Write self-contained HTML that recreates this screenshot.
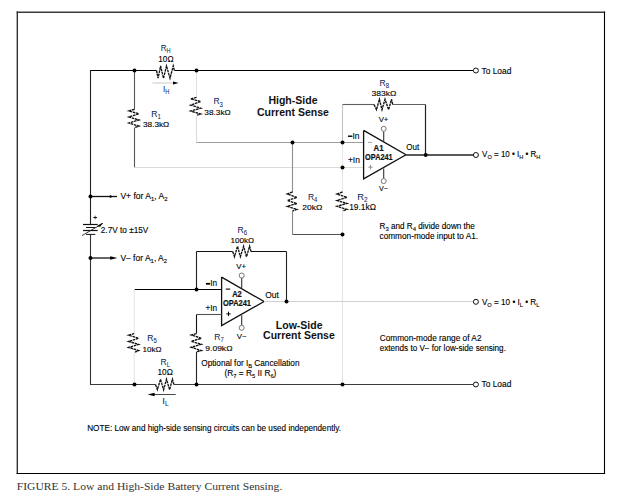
<!DOCTYPE html>
<html><head><meta charset="utf-8"><style>
html,body{margin:0;padding:0;background:#fff;}
svg{display:block;}
text{font-family:"Liberation Sans",sans-serif;}
.serif{font-family:"Liberation Serif",serif;}
</style></head><body>
<svg width="620" height="503" viewBox="0 0 620 503">
<rect width="620" height="503" fill="#fff"/>
<line x1="17.3" y1="11.4" x2="17.3" y2="474.1" stroke="#222" stroke-width="1.3"/>
<line x1="16.6" y1="12.2" x2="605.1" y2="12.2" stroke="#3a3a3a" stroke-width="1.5"/>
<line x1="604.5" y1="11.4" x2="604.5" y2="474.1" stroke="#000" stroke-width="1.1"/>
<line x1="16.6" y1="473.5" x2="605.1" y2="473.5" stroke="#000" stroke-width="1.1"/>
<line x1="90.5" y1="70.5" x2="156.5" y2="70.5" stroke="#000" stroke-width="1.1"/>
<polyline points="156.50,70.50 158.10,78.20 160.60,66.00 163.50,78.20 166.50,66.00 170.00,78.20 173.20,66.00 174.40,70.50" stroke="#111" stroke-width="1.35" fill="none" stroke-linejoin="miter" stroke-dasharray="2.6 0.7"/>
<line x1="174.4" y1="70.5" x2="473.3" y2="70.5" stroke="#000" stroke-width="1.1"/>
<circle cx="475.9" cy="70.5" r="2.5" fill="#fff" stroke="#111" stroke-width="1.0"/>
<line x1="90.5" y1="70.0" x2="90.5" y2="224.5" stroke="#222" stroke-width="1.1"/>
<line x1="90.5" y1="234.3" x2="90.5" y2="385.0" stroke="#333" stroke-width="1.1"/>
<line x1="90" y1="384.5" x2="155.5" y2="384.5" stroke="#3a3a3a" stroke-width="1.1"/>
<polyline points="155.50,384.50 157.40,389.70 160.50,379.30 163.60,389.70 166.50,379.30 169.60,389.70 172.40,379.30 173.90,384.50" stroke="#111" stroke-width="1.35" fill="none" stroke-linejoin="miter" stroke-dasharray="2.6 0.7"/>
<line x1="173.9" y1="384.5" x2="473.3" y2="384.5" stroke="#3c3c3c" stroke-width="1.1"/>
<circle cx="475.9" cy="384.5" r="2.5" fill="#fff" stroke="#111" stroke-width="1.0"/>
<line x1="134.5" y1="70.5" x2="134.5" y2="109.5" stroke="#555" stroke-width="1.1"/>
<polyline points="134.50,109.30 128.90,110.90 138.90,113.80 128.90,116.90 138.90,120.00 128.90,123.00 138.90,126.10 134.50,127.60" stroke="#111" stroke-width="1.35" fill="none" stroke-linejoin="miter" stroke-dasharray="2.6 0.7"/>
<line x1="134.5" y1="127.6" x2="134.5" y2="167.5" stroke="#555" stroke-width="1.1"/>
<line x1="134.5" y1="167.5" x2="363.5" y2="167.5" stroke="#dadada" stroke-width="1.1"/>
<line x1="196.5" y1="70.5" x2="196.5" y2="97.4" stroke="#e2e2e2" stroke-width="1.1"/>
<polyline points="196.50,97.40 190.70,98.90 200.70,101.50 190.70,105.10 200.70,108.20 190.70,111.00 200.70,114.10 196.50,115.40" stroke="#111" stroke-width="1.35" fill="none" stroke-linejoin="miter" stroke-dasharray="2.6 0.7"/>
<line x1="196.5" y1="115.4" x2="196.5" y2="142.5" stroke="#dcdcdc" stroke-width="1.1"/>
<line x1="196.5" y1="142.5" x2="363.5" y2="142.5" stroke="#9e9e9e" stroke-width="1.1"/>
<line x1="292.5" y1="142.5" x2="292.5" y2="192" stroke="#909090" stroke-width="1.1"/>
<polyline points="292.50,192.00 287.30,194.00 297.00,197.40 287.30,200.50 297.00,203.50 287.30,206.30 297.00,209.40 292.50,211.00" stroke="#111" stroke-width="1.35" fill="none" stroke-linejoin="miter" stroke-dasharray="2.6 0.7"/>
<line x1="292.5" y1="211" x2="292.5" y2="234.5" stroke="#888" stroke-width="1.1"/>
<line x1="292.5" y1="234.5" x2="342.5" y2="234.5" stroke="#505050" stroke-width="1.1"/>
<line x1="342.5" y1="104.5" x2="342.5" y2="142.5" stroke="#c4c4c4" stroke-width="1.1"/>
<line x1="342.5" y1="142.5" x2="342.5" y2="192" stroke="#e8e8e8" stroke-width="1.1"/>
<polyline points="342.50,192.00 337.00,194.00 347.00,197.40 337.00,200.50 347.00,203.50 337.00,206.30 347.00,209.40 342.50,211.00" stroke="#111" stroke-width="1.35" fill="none" stroke-linejoin="miter" stroke-dasharray="2.6 0.7"/>
<line x1="342.5" y1="211" x2="342.5" y2="384.5" stroke="#e6e6e6" stroke-width="1.1"/>
<line x1="342.5" y1="104.5" x2="374" y2="104.5" stroke="#606060" stroke-width="1.1"/>
<polyline points="374.00,104.50 376.50,109.70 379.40,99.30 382.00,109.70 385.00,99.30 388.60,109.70 391.50,99.30 392.70,104.50" stroke="#111" stroke-width="1.35" fill="none" stroke-linejoin="miter" stroke-dasharray="2.6 0.7"/>
<line x1="392.7" y1="104.5" x2="425.5" y2="104.5" stroke="#606060" stroke-width="1.1"/>
<line x1="425.5" y1="104.5" x2="425.5" y2="155" stroke="#222" stroke-width="1.2"/>
<polyline points="363.60,130.40 363.60,178.90 406.00,154.80 363.60,130.40" stroke="#111" stroke-width="1.3" fill="none" stroke-linejoin="miter"/>
<line x1="406" y1="155" x2="473.4" y2="155" stroke="#5a5a5a" stroke-width="2.0"/>
<circle cx="475.9" cy="155" r="2.5" fill="#fff" stroke="#111" stroke-width="1.0"/>
<line x1="383.7" y1="131.4" x2="383.7" y2="141.5" stroke="#333" stroke-width="1.1"/>
<circle cx="383.7" cy="128.8" r="2.5" fill="#fff" stroke="#555" stroke-width="0.8"/>
<line x1="383.7" y1="168.5" x2="383.7" y2="178.5" stroke="#333" stroke-width="1.1"/>
<circle cx="383.7" cy="181.1" r="2.5" fill="#fff" stroke="#555" stroke-width="0.8"/>
<line x1="368" y1="142.4" x2="372" y2="142.4" stroke="#999" stroke-width="0.9"/>
<line x1="368.3" y1="167.2" x2="372.7" y2="167.2" stroke="#888" stroke-width="0.9"/>
<line x1="370.5" y1="165.0" x2="370.5" y2="169.4" stroke="#888" stroke-width="0.9"/>
<line x1="152.5" y1="83" x2="174" y2="83" stroke="#d0d0d0" stroke-width="1.1"/>
<polygon points="173,81.6 178.6,83 173,84.4" fill="#000"/>
<line x1="83" y1="224.5" x2="97.7" y2="224.5" stroke="#111" stroke-width="1.2"/>
<line x1="86" y1="227.5" x2="95.3" y2="227.5" stroke="#111" stroke-width="1.0"/>
<line x1="83" y1="230.5" x2="97.7" y2="230.5" stroke="#111" stroke-width="1.2"/>
<line x1="86" y1="234.4" x2="95.3" y2="234.4" stroke="#111" stroke-width="1.0"/>
<line x1="82" y1="235.6" x2="103" y2="223.3" stroke="#222" stroke-width="0.9"/>
<polygon points="97.6,226.0 101.8,223.4 100.2,226.4" fill="#000" stroke="#000" stroke-width="0.6"/>
<line x1="93.4" y1="217.5" x2="96.9" y2="217.5" stroke="#000" stroke-width="1.1"/>
<line x1="95.2" y1="215.7" x2="95.2" y2="219.3" stroke="#333" stroke-width="0.8"/>
<line x1="90.5" y1="196.5" x2="117" y2="196.5" stroke="#111" stroke-width="1.3"/>
<polygon points="109.8,195.0 113.2,196.5 109.8,198.0" fill="#000"/>
<line x1="90.5" y1="258" x2="111" y2="258" stroke="#111" stroke-width="1.3"/>
<polygon points="110.2,256.2 117.3,258 110.2,259.8" fill="#000"/>
<polyline points="221.60,277.10 221.60,325.60 264.00,301.50 221.60,277.10" stroke="#111" stroke-width="1.3" fill="none" stroke-linejoin="miter"/>
<line x1="241.7" y1="278.1" x2="241.7" y2="288.2" stroke="#333" stroke-width="1.1"/>
<circle cx="241.7" cy="275.5" r="2.5" fill="#fff" stroke="#555" stroke-width="0.8"/>
<line x1="241.7" y1="315.2" x2="241.7" y2="325.2" stroke="#333" stroke-width="1.1"/>
<circle cx="241.7" cy="327.79999999999995" r="2.5" fill="#fff" stroke="#555" stroke-width="0.8"/>
<line x1="225.8" y1="289.1" x2="230.2" y2="289.1" stroke="#000" stroke-width="1.1"/>
<line x1="226.3" y1="313.9" x2="230.7" y2="313.9" stroke="#000" stroke-width="1.0"/>
<line x1="228.5" y1="311.7" x2="228.5" y2="316.1" stroke="#000" stroke-width="1.0"/>
<line x1="134.5" y1="289.5" x2="221.6" y2="289.5" stroke="#000" stroke-width="1.1"/>
<line x1="196.5" y1="251.5" x2="196.5" y2="289.5" stroke="#222" stroke-width="1.1"/>
<line x1="196.5" y1="251.5" x2="232.7" y2="251.5" stroke="#111" stroke-width="1.1"/>
<polyline points="232.70,251.50 234.50,256.70 237.50,246.30 240.40,256.70 243.60,246.30 246.50,256.70 249.60,246.30 251.00,251.50" stroke="#111" stroke-width="1.35" fill="none" stroke-linejoin="miter" stroke-dasharray="2.6 0.7"/>
<line x1="251.0" y1="251.5" x2="286.5" y2="251.5" stroke="#111" stroke-width="1.1"/>
<line x1="286.5" y1="251.5" x2="286.5" y2="301.5" stroke="#222" stroke-width="1.1"/>
<line x1="264" y1="301.5" x2="473.4" y2="301.5" stroke="#d0d0d0" stroke-width="1.0"/>
<circle cx="475.9" cy="301.8" r="2.5" fill="#fff" stroke="#111" stroke-width="1.0"/>
<line x1="196.5" y1="314.5" x2="221.6" y2="314.5" stroke="#555" stroke-width="1.1"/>
<line x1="196.5" y1="314.5" x2="196.5" y2="333.4" stroke="#111" stroke-width="1.1"/>
<polyline points="196.40,333.60 191.30,335.00 201.30,338.30 191.30,341.40 201.30,344.30 191.30,347.20 201.30,350.60 196.40,351.70" stroke="#111" stroke-width="1.35" fill="none" stroke-linejoin="miter" stroke-dasharray="2.6 0.7"/>
<line x1="196.5" y1="351.7" x2="196.5" y2="384.5" stroke="#222" stroke-width="1.1"/>
<line x1="134.3" y1="289.5" x2="134.3" y2="333.4" stroke="#e6e6e6" stroke-width="1.1"/>
<polyline points="134.20,333.60 128.60,335.20 138.60,338.30 128.60,341.40 138.60,344.40 128.60,347.40 138.60,350.60 134.20,352.50" stroke="#111" stroke-width="1.35" fill="none" stroke-linejoin="miter" stroke-dasharray="2.6 0.7"/>
<line x1="134.3" y1="351.7" x2="134.3" y2="384.5" stroke="#e6e6e6" stroke-width="1.1"/>
<rect x="206.0" y="282.9" width="4.0" height="1.8" fill="#000"/>
<rect x="348.0" y="135.5" width="4.2" height="1.2" fill="#000"/>
<line x1="153" y1="394.5" x2="175.7" y2="394.5" stroke="#333" stroke-width="0.9"/>
<polygon points="154.6,392.7 147.6,394.5 154.6,396.3" fill="#000"/>
<text x="160.70" y="50.7" font-size="9.2" font-weight="normal" fill="#0a1f55" stroke="#0a1f55" stroke-width="0.05" textLength="9.80" lengthAdjust="spacingAndGlyphs">R<tspan font-size="6.4" dy="2.4">H</tspan></text>
<text x="158.30" y="61.7" font-size="8.2" font-weight="normal" fill="#000" stroke="#000" stroke-width="0.12" textLength="15.30" lengthAdjust="spacingAndGlyphs">10Ω</text>
<text x="162.90" y="91.5" font-size="9.2" font-weight="normal" fill="#0a1f55" stroke="#0a1f55" stroke-width="0.05" textLength="6.40" lengthAdjust="spacingAndGlyphs">I<tspan font-size="6.4" dy="2.4">H</tspan></text>
<text x="151.30" y="116.9" font-size="9.2" font-weight="normal" fill="#0a1f55" stroke="#0a1f55" stroke-width="0.05" textLength="9.50" lengthAdjust="spacingAndGlyphs">R<tspan font-size="6.4" dy="2.4">1</tspan></text>
<text x="142.90" y="127.0" font-size="8.0" font-weight="normal" fill="#000" stroke="#000" stroke-width="0.12" textLength="26.40" lengthAdjust="spacingAndGlyphs">38.3kΩ</text>
<text x="213.40" y="104.3" font-size="9.2" font-weight="normal" fill="#0a1f55" stroke="#0a1f55" stroke-width="0.05" textLength="9.40" lengthAdjust="spacingAndGlyphs">R<tspan font-size="6.4" dy="2.4">3</tspan></text>
<text x="204.30" y="114.6" font-size="8.0" font-weight="normal" fill="#000" stroke="#000" stroke-width="0.12" textLength="26.40" lengthAdjust="spacingAndGlyphs">38.3kΩ</text>
<text x="268.40" y="103.6" font-size="10.8" font-weight="bold" fill="#111" textLength="49.10" lengthAdjust="spacingAndGlyphs">High-Side</text>
<text x="257.00" y="115.6" font-size="10.8" font-weight="bold" fill="#111" textLength="71.90" lengthAdjust="spacingAndGlyphs">Current Sense</text>
<text x="379.50" y="85.8" font-size="9.2" font-weight="normal" fill="#0a1f55" stroke="#0a1f55" stroke-width="0.05" textLength="9.50" lengthAdjust="spacingAndGlyphs">R<tspan font-size="6.4" dy="2.4">8</tspan></text>
<text x="371.60" y="95.6" font-size="7.6" font-weight="normal" fill="#000" stroke="#000" stroke-width="0.12" textLength="24.90" lengthAdjust="spacingAndGlyphs">383kΩ</text>
<text x="378.70" y="121.5" font-size="7.6" font-weight="normal" fill="#000" stroke="#000" stroke-width="0.12" textLength="9.70" lengthAdjust="spacingAndGlyphs">V+</text>
<text x="347.50" y="138.7" font-size="8.6" font-weight="normal" fill="#000" stroke="#000" stroke-width="0.12" textLength="12.00" lengthAdjust="spacingAndGlyphs">−In</text>
<text x="347.90" y="163.0" font-size="8.6" font-weight="normal" fill="#000" stroke="#000" stroke-width="0.12" textLength="12.00" lengthAdjust="spacingAndGlyphs">+In</text>
<text x="373.60" y="150.7" font-size="8.4" font-weight="bold" fill="#111" stroke="#111" stroke-width="0.2" textLength="10.00" lengthAdjust="spacingAndGlyphs">A1</text>
<text x="365.10" y="159.7" font-size="8.4" font-weight="bold" fill="#111" stroke="#111" stroke-width="0.2" textLength="27.60" lengthAdjust="spacingAndGlyphs">OPA241</text>
<text x="406.30" y="149.8" font-size="8.6" font-weight="normal" fill="#000" stroke="#000" stroke-width="0.12" textLength="12.90" lengthAdjust="spacingAndGlyphs">Out</text>
<text x="379.00" y="191.3" font-size="7.6" font-weight="normal" fill="#000" stroke="#000" stroke-width="0.12" textLength="9.00" lengthAdjust="spacingAndGlyphs">V−</text>
<text x="481.50" y="73.8" font-size="8.6" font-weight="normal" fill="#000" stroke="#000" stroke-width="0.12" textLength="29.80" lengthAdjust="spacingAndGlyphs">To Load</text>
<text x="482.10" y="157.4" font-size="8.6" font-weight="normal" fill="#000" stroke="#000" stroke-width="0.12" textLength="58.30" lengthAdjust="spacingAndGlyphs">V<tspan font-size="6.0" dy="2.0">O</tspan><tspan dy="-2.0"> = 10 • I</tspan><tspan font-size="6.0" dy="2.0">H</tspan><tspan dy="-2.0"> • R</tspan><tspan font-size="6.0" dy="2.0">H</tspan></text>
<text x="307.90" y="200.0" font-size="9.2" font-weight="normal" fill="#0a1f55" stroke="#0a1f55" stroke-width="0.05" textLength="9.40" lengthAdjust="spacingAndGlyphs">R<tspan font-size="6.4" dy="2.4">4</tspan></text>
<text x="302.30" y="210.3" font-size="7.4" font-weight="normal" fill="#000" stroke="#000" stroke-width="0.12" textLength="20.10" lengthAdjust="spacingAndGlyphs">20kΩ</text>
<text x="357.30" y="200.0" font-size="9.2" font-weight="normal" fill="#0a1f55" stroke="#0a1f55" stroke-width="0.05" textLength="10.30" lengthAdjust="spacingAndGlyphs">R<tspan font-size="6.4" dy="2.4">2</tspan></text>
<text x="349.20" y="210.3" font-size="8.2" font-weight="normal" fill="#000" stroke="#000" stroke-width="0.12" textLength="26.80" lengthAdjust="spacingAndGlyphs">19.1kΩ</text>
<text x="379.50" y="229.2" font-size="8.3" font-weight="normal" fill="#000" stroke="#000" stroke-width="0.12" textLength="95.40" lengthAdjust="spacingAndGlyphs">R<tspan font-size="6.0" dy="2.0">3</tspan><tspan dy="-2.0"> and R</tspan><tspan font-size="6.0" dy="2.0">4</tspan><tspan dy="-2.0"> divide down the</tspan></text>
<text x="379.50" y="239.4" font-size="8.3" font-weight="normal" fill="#000" stroke="#000" stroke-width="0.12" textLength="98.60" lengthAdjust="spacingAndGlyphs">common-mode input to A1.</text>
<text x="120.40" y="198.9" font-size="8.6" font-weight="normal" fill="#000" stroke="#000" stroke-width="0.12" textLength="47.10" lengthAdjust="spacingAndGlyphs">V+ for A<tspan font-size="6.0" dy="2.0">1</tspan><tspan dy="-2.0">, A</tspan><tspan font-size="6.0" dy="2.0">2</tspan></text>
<text x="100.80" y="232.7" font-size="8.6" font-weight="normal" fill="#000" stroke="#000" stroke-width="0.12" textLength="47.50" lengthAdjust="spacingAndGlyphs">2.7V to ±15V</text>
<text x="120.40" y="261.1" font-size="8.6" font-weight="normal" fill="#000" stroke="#000" stroke-width="0.12" textLength="46.70" lengthAdjust="spacingAndGlyphs">V– for A<tspan font-size="6.0" dy="2.0">1</tspan><tspan dy="-2.0">, A</tspan><tspan font-size="6.0" dy="2.0">2</tspan></text>
<text x="237.50" y="232.7" font-size="9.2" font-weight="normal" fill="#0a1f55" stroke="#0a1f55" stroke-width="0.05" textLength="9.50" lengthAdjust="spacingAndGlyphs">R<tspan font-size="6.4" dy="2.4">6</tspan></text>
<text x="230.50" y="242.7" font-size="7.3" font-weight="normal" fill="#000" stroke="#000" stroke-width="0.12" textLength="23.70" lengthAdjust="spacingAndGlyphs">100kΩ</text>
<text x="236.30" y="268.5" font-size="7.6" font-weight="normal" fill="#000" stroke="#000" stroke-width="0.12" textLength="9.80" lengthAdjust="spacingAndGlyphs">V+</text>
<text x="205.50" y="286.0" font-size="8.6" font-weight="normal" fill="#000" stroke="#000" stroke-width="0.12" textLength="11.60" lengthAdjust="spacingAndGlyphs">−In</text>
<text x="205.50" y="310.5" font-size="8.6" font-weight="normal" fill="#000" stroke="#000" stroke-width="0.12" textLength="11.60" lengthAdjust="spacingAndGlyphs">+In</text>
<text x="232.20" y="297.4" font-size="8.4" font-weight="bold" fill="#111" stroke="#111" stroke-width="0.2" textLength="9.60" lengthAdjust="spacingAndGlyphs">A2</text>
<text x="223.00" y="306.4" font-size="8.4" font-weight="bold" fill="#111" stroke="#111" stroke-width="0.2" textLength="28.00" lengthAdjust="spacingAndGlyphs">OPA241</text>
<text x="265.30" y="298.0" font-size="8.6" font-weight="normal" fill="#000" stroke="#000" stroke-width="0.12" textLength="13.60" lengthAdjust="spacingAndGlyphs">Out</text>
<text x="236.80" y="338.9" font-size="7.6" font-weight="normal" fill="#000" stroke="#000" stroke-width="0.12" textLength="9.80" lengthAdjust="spacingAndGlyphs">V−</text>
<text x="214.20" y="339.7" font-size="9.2" font-weight="normal" fill="#0a1f55" stroke="#0a1f55" stroke-width="0.05" textLength="9.50" lengthAdjust="spacingAndGlyphs">R<tspan font-size="6.4" dy="2.4">7</tspan></text>
<text x="205.30" y="350.6" font-size="7.9" font-weight="normal" fill="#000" stroke="#000" stroke-width="0.12" textLength="27.20" lengthAdjust="spacingAndGlyphs">9.09kΩ</text>
<text x="275.80" y="328.6" font-size="10.8" font-weight="bold" fill="#111" textLength="46.80" lengthAdjust="spacingAndGlyphs">Low-Side</text>
<text x="263.10" y="339.2" font-size="10.8" font-weight="bold" fill="#111" textLength="71.70" lengthAdjust="spacingAndGlyphs">Current Sense</text>
<text x="481.90" y="304.8" font-size="8.6" font-weight="normal" fill="#000" stroke="#000" stroke-width="0.12" textLength="57.50" lengthAdjust="spacingAndGlyphs">V<tspan font-size="6.0" dy="2.0">O</tspan><tspan dy="-2.0"> = 10 • I</tspan><tspan font-size="6.0" dy="2.0">L</tspan><tspan dy="-2.0"> • R</tspan><tspan font-size="6.0" dy="2.0">L</tspan></text>
<text x="379.70" y="340.5" font-size="8.3" font-weight="normal" fill="#000" stroke="#000" stroke-width="0.12" textLength="101.80" lengthAdjust="spacingAndGlyphs">Common-mode range of A2</text>
<text x="379.70" y="351.0" font-size="8.3" font-weight="normal" fill="#000" stroke="#000" stroke-width="0.12" textLength="126.20" lengthAdjust="spacingAndGlyphs">extends to V− for low-side sensing.</text>
<text x="147.20" y="341.0" font-size="9.2" font-weight="normal" fill="#0a1f55" stroke="#0a1f55" stroke-width="0.05" textLength="9.50" lengthAdjust="spacingAndGlyphs">R<tspan font-size="6.4" dy="2.4">5</tspan></text>
<text x="142.50" y="351.5" font-size="8.1" font-weight="normal" fill="#000" stroke="#000" stroke-width="0.12" textLength="19.00" lengthAdjust="spacingAndGlyphs">10kΩ</text>
<text x="160.50" y="364.7" font-size="9.2" font-weight="normal" fill="#0a1f55" stroke="#0a1f55" stroke-width="0.05" textLength="9.50" lengthAdjust="spacingAndGlyphs">R<tspan font-size="6.4" dy="2.4">L</tspan></text>
<text x="157.50" y="374.7" font-size="8.2" font-weight="normal" fill="#000" stroke="#000" stroke-width="0.12" textLength="15.30" lengthAdjust="spacingAndGlyphs">10Ω</text>
<text x="162.30" y="404.0" font-size="9.2" font-weight="normal" fill="#0a1f55" stroke="#0a1f55" stroke-width="0.05" textLength="6.40" lengthAdjust="spacingAndGlyphs">I<tspan font-size="6.4" dy="2.4">L</tspan></text>
<text x="201.30" y="366.4" font-size="8.6" font-weight="normal" fill="#000" stroke="#000" stroke-width="0.12" textLength="98.20" lengthAdjust="spacingAndGlyphs">Optional for I<tspan font-size="6.0" dy="2.0">B</tspan><tspan dy="-2.0"> Cancellation</tspan></text>
<text x="224.50" y="376.1" font-size="8.6" font-weight="normal" fill="#000" stroke="#000" stroke-width="0.12" textLength="51.90" lengthAdjust="spacingAndGlyphs">(R<tspan font-size="6.0" dy="2.0">7</tspan><tspan dy="-2.0"> = R</tspan><tspan font-size="6.0" dy="2.0">5</tspan><tspan dy="-2.0"> II R</tspan><tspan font-size="6.0" dy="2.0">6</tspan><tspan dy="-2.0">)</tspan></text>
<text x="481.50" y="387.2" font-size="8.6" font-weight="normal" fill="#000" stroke="#000" stroke-width="0.12" textLength="29.80" lengthAdjust="spacingAndGlyphs">To Load</text>
<text x="87.20" y="430.7" font-size="8.6" font-weight="normal" fill="#000" stroke="#000" stroke-width="0.12" textLength="253.90" lengthAdjust="spacingAndGlyphs">NOTE: Low and high-side sensing circuits can be used independently.</text>
<text x="16.80" y="490.2" font-size="11.3" font-weight="normal" fill="#333" textLength="265.50" lengthAdjust="spacingAndGlyphs" class="serif">FIGURE 5. Low and High-Side Battery Current Sensing.</text>
<circle cx="134.5" cy="70.5" r="2.0" fill="#000"/>
<circle cx="196.5" cy="70.5" r="2.0" fill="#000"/>
<circle cx="292.5" cy="142.5" r="2.0" fill="#000"/>
<circle cx="342.5" cy="142.5" r="2.0" fill="#000"/>
<circle cx="342.5" cy="167.5" r="2.0" fill="#000"/>
<circle cx="342.5" cy="234.5" r="2.0" fill="#000"/>
<circle cx="342.5" cy="384.5" r="2.0" fill="#000"/>
<circle cx="425.7" cy="155" r="2.0" fill="#000"/>
<circle cx="90.5" cy="196.5" r="2.0" fill="#000"/>
<circle cx="90.5" cy="258" r="2.0" fill="#000"/>
<circle cx="196.5" cy="289.5" r="2.0" fill="#000"/>
<circle cx="286.5" cy="301.5" r="2.0" fill="#000"/>
<circle cx="196.5" cy="384.5" r="2.0" fill="#000"/>
<circle cx="134.5" cy="384.5" r="2.0" fill="#000"/>
</svg>
</body></html>
